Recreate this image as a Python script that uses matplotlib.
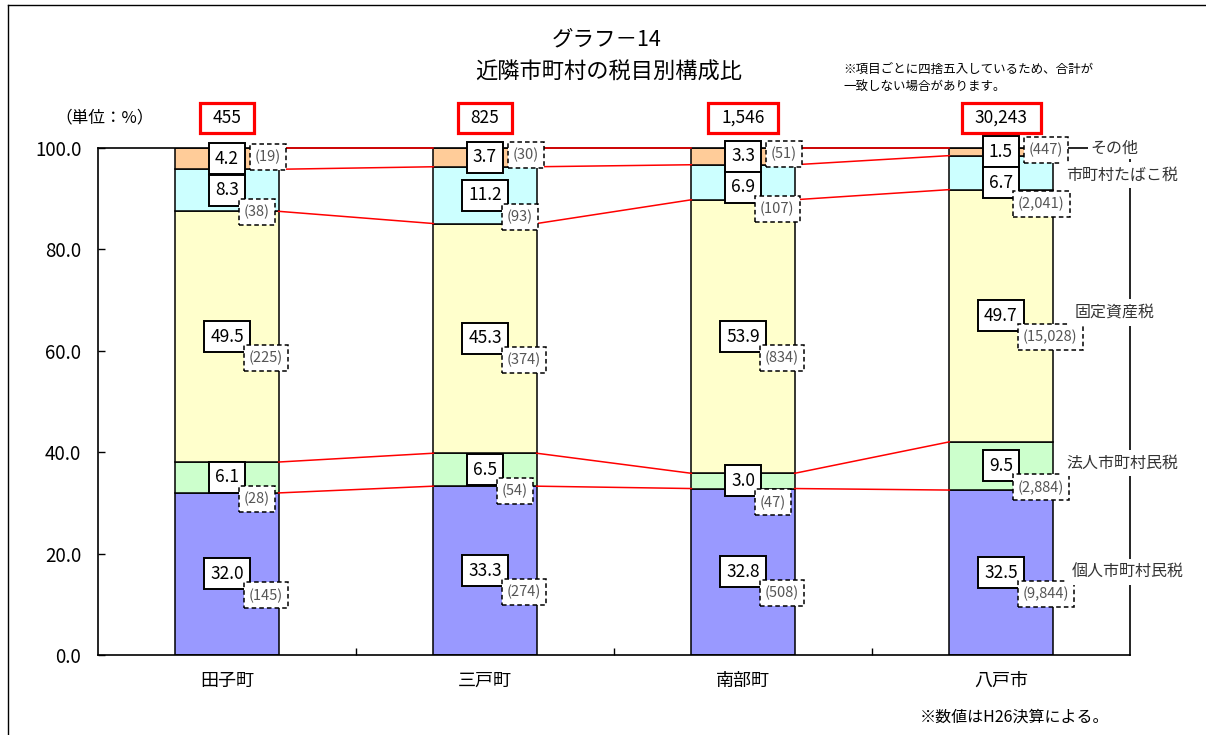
import matplotlib
matplotlib.use('Agg')
import matplotlib.pyplot as plt
from matplotlib.patches import Rectangle
from matplotlib.lines import Line2D
import numpy as np

plt.rcParams['font.family'] = ['Noto Sans CJK JP', 'DejaVu Sans']

towns = ['田子町', '三戸町', '南部町', '八戸市']
series = ['個人市町村民税', '法人市町村民税', '固定資産税', '市町村たばこ税', 'その他']
colors = ['#9999FF', '#CCFFCC', '#FFFFCC', '#CCFFFF', '#FFCC99']

# 構成比 (%)
kojin = [32.0, 33.3, 32.8, 32.5]
hojin = [6.1, 6.5, 3.0, 9.5]
kotei = [49.5, 45.3, 53.9, 49.7]
tabako = [8.3, 11.2, 6.9, 6.7]
sonota = [4.2, 3.7, 3.3, 1.5]

# 金額 (百万円)
kojin_amt = [145, 274, 508, 9844]
hojin_amt = [28, 54, 47, 2884]
kotei_amt = [225, 374, 834, 15028]
tabako_amt = [38, 93, 107, 2041]
sonota_amt = [19, 30, 51, 447]
totals = [455, 825, 1546, 30243]

pct = np.array([kojin, hojin, kotei, tabako, sonota])
amt = [kojin_amt, hojin_amt, kotei_amt, tabako_amt, sonota_amt]
# scale so each bar fills exactly 100 (rounded values don't always add up)
heights = pct / pct.sum(axis=0) * 100

fig = plt.figure(figsize=(12.06, 7.35), dpi=100)
ax = fig.add_axes([98 / 1206, 80 / 735, 1032 / 1206, 507 / 735])
x = np.arange(len(towns))
w = 0.4

bottom = np.zeros(len(towns))
tops = []
value_texts = {}
amount_texts = {}
for k in range(len(series)):
    h = heights[k]
    ax.bar(x, h, w, bottom=bottom, color=colors[k], edgecolor='black',
           linewidth=1.1, zorder=2)
    for i in range(len(towns)):
        c = bottom[i] + h[i] / 2
        value_texts[(k, i)] = ax.text(x[i], c, f'{pct[k][i]:.1f}', ha='center', va='center',
                                      fontsize=12.5, color='black', zorder=7, clip_on=False)
        amount_texts[(k, i)] = ax.text(x[i], c, f'({amt[k][i]:,})', ha='center', va='center',
                                       fontsize=10.5, color='#555555', zorder=9, clip_on=False)
    bottom = bottom + h
    tops.append(bottom.copy())

# series lines
for lvl in tops:
    for i in range(len(towns) - 1):
        ax.plot([x[i] + w / 2, x[i + 1] - w / 2], [lvl[i], lvl[i + 1]],
                color='red', linewidth=1.1, zorder=5, clip_on=False)

total_texts = []
for i, t in enumerate(totals):
    tt = ax.text(x[i], 106, f'{t:,}', ha='center', va='center', fontsize=12.5,
                 color='black', zorder=7, clip_on=False)
    total_texts.append(tt)

ax.set_xlim(-0.5, len(towns) - 0.5)
ax.set_ylim(0, 100)
ax.set_yticks(np.arange(0, 101, 20))
ax.set_yticklabels([f'{v:.1f}' for v in np.arange(0, 101, 20)], fontsize=13.5)
ax.tick_params(axis='y', direction='in', length=5, pad=12, width=1)
ax.set_xticks(x)
ax.set_xticklabels(towns, fontsize=13)
ax.set_xticks([0.5, 1.5, 2.5], minor=True)
ax.tick_params(axis='x', which='major', length=0, pad=12)
ax.tick_params(axis='x', which='minor', direction='in', length=5, width=1)
for s in ax.spines.values():
    s.set_linewidth(1.2)
    s.set_zorder(4)

# series name labels on the right
label_pos = {'個人市町村民税': (3.49, 16.4), '法人市町村民税': (3.47, 37.9),
             '固定資産税': (3.44, 67.6), '市町村たばこ税': (3.47, 94.7)}
for name, (lx, ly) in label_pos.items():
    ax.text(lx, ly, name, ha='center', va='center', fontsize=11.5,
            color='#333333', zorder=10, clip_on=False,
            bbox=dict(boxstyle='square,pad=0.3', fc='white', ec='none'))
# その他 sits on the top frame line, which acts as its leader
ax.text(3.345, 100, 'その他', ha='left', va='center', fontsize=11.5,
        color='#333333', zorder=10, clip_on=False,
        bbox=dict(boxstyle='square,pad=0.15', fc='white', ec='none'))

# measure texts and build the label boxes
fig.canvas.draw()
r = fig.canvas.get_renderer()
inv = ax.transData.inverted()


def add_box(x0, y0, bw, bh, **kw):
    (dx0, dy0) = inv.transform((x0, y0))
    (dx1, dy1) = inv.transform((x0 + bw, y0 + bh))
    ax.add_patch(Rectangle((dx0, dy0), dx1 - dx0, dy1 - dy0, fill=True,
                           clip_on=False, **kw))


boxes = {}
for i in range(len(towns)):
    prev_bottom = None
    # go from the top segment down, pushing boxes below the one above if they collide
    for k in range(len(series) - 1, -1, -1):
        vt = value_texts[(k, i)]
        ext = vt.get_window_extent(r)
        cx, cy = ax.transData.transform(vt.get_position())
        bw = ext.width + 12
        bh = 31
        if prev_bottom is not None and cy + bh / 2 > prev_bottom:
            cy = prev_bottom - bh / 2
            vt.set_position(inv.transform((cx, cy)))
        add_box(cx - bw / 2, cy - bh / 2, bw, bh, fc='white', ec='black',
                linewidth=1.4, zorder=6)
        boxes[(k, i)] = (cx + bw / 2, cy - bh / 2, cy)
        prev_bottom = cy - bh / 2

for (k, i), at in amount_texts.items():
    ext = at.get_window_extent(r)
    vr, vb, vc = boxes[(k, i)]
    aw = ext.width + 10
    ah = 26
    if k == len(series) - 1:
        left = vr + 5
        acy = vc + 2
    else:
        left = vr - 6
        acy = vb + 7 - ah / 2
    add_box(left, acy - ah / 2, aw, ah, fc='white', ec='black',
            linewidth=1.1, linestyle=(0, (3, 2)), zorder=8)
    at.set_position(inv.transform((left + aw / 2, acy)))

for tt in total_texts:
    ext = tt.get_window_extent(r)
    cx, cy = ax.transData.transform(tt.get_position())
    bw = ext.width + 26
    bh = 30
    add_box(cx - bw / 2, cy - bh / 2, bw, bh, fc='white', ec='red',
            linewidth=2.3, zorder=6)

# titles and notes
fig.text(0.503, 0.946, 'グラフ－14', ha='center', va='center', fontsize=15.5)
fig.text(0.505, 0.902, '近隣市町村の税目別構成比', ha='center', va='center', fontsize=16)
fig.text(843 / 1206, 0.905, '※項目ごとに四捨五入しているため、合計が',
         ha='left', va='center', fontsize=9)
fig.text(843 / 1206, 0.882, '一致しない場合があります。',
         ha='left', va='center', fontsize=9)
fig.text(55 / 1206, 1 - 118 / 735, '（単位：%）', ha='left', va='center', fontsize=12)
fig.text(920 / 1206, 1 - 717 / 735, '※数値はH26決算による。', ha='left', va='center',
         fontsize=11.5)

# outer frame (left and top edges visible)
fig.add_artist(Line2D([8 / 1206, 8 / 1206], [0, 1 - 5 / 735], color='black', linewidth=1))
fig.add_artist(Line2D([8 / 1206, 1], [1 - 5 / 735, 1 - 5 / 735], color='black', linewidth=1))

fig.savefig('out.png', dpi=100)
